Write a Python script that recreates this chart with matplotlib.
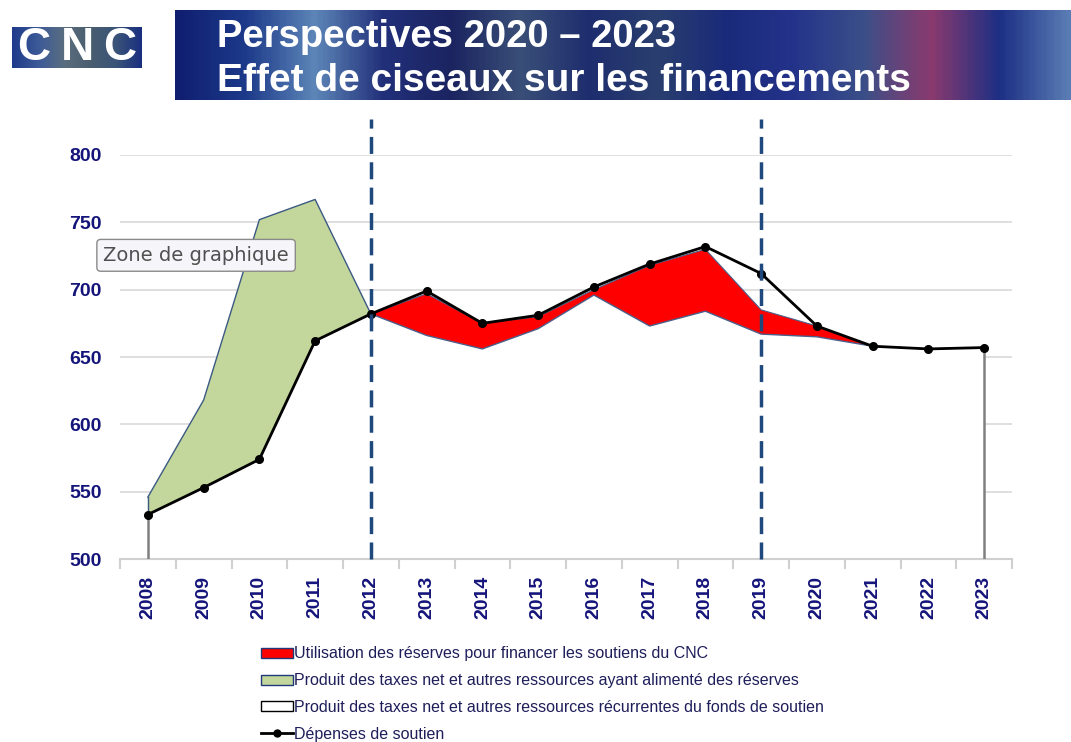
import numpy as np
import matplotlib.pyplot as plt
from matplotlib.colors import LinearSegmentedColormap
from matplotlib.patches import Patch
from matplotlib.lines import Line2D

years = list(range(2008, 2024))
# recurrent revenue (white area, bottom layer)
recurrentes = [533, 553, 574, 662, 682, 666, 656, 671, 696, 673, 684, 667, 665, 658, 656, 657]
# revenue that fed the reserves (green, stacked on top)
alimentation = [13, 65, 178, 105, 0, 0, 0, 0, 0, 0, 0, 0, 0, 0, 0, 0]
# use of reserves (red, stacked on top)
utilisation = [0, 0, 0, 0, 0, 31, 19, 9, 4, 45, 46, 18, 8, 0, 0, 0]
# support spending (black line)
depenses = [533, 553, 574, 662, 682, 699, 675, 681, 702, 719, 732, 712, 673, 658, 656, 657]
y_ticks = [500, 550, 600, 650, 700, 750, 800]
ruptures = [2012, 2019]

navy = "#14147a"
dash_blue = "#1f497d"

plt.rcParams['font.family'] = ['Liberation Sans', 'DejaVu Sans']

fig = plt.figure(figsize=(10.71, 7.42), dpi=100)

# banner
ban = fig.add_axes([175 / 1071, 1 - 100 / 742, 896 / 1071, 90 / 742])
stops = ["#101e70", "#1d3a8a", "#5d86b8", "#22307a", "#1b2460", "#3a4f78",
         "#1e2d6e", "#2a3f6e", "#1a2a7a", "#24338a", "#3a4f88", "#8a3a6e",
         "#1c2f84", "#5a7cb4"]
cmap = LinearSegmentedColormap.from_list("banner", stops)
grad = np.linspace(0, 1, 400)[None, :]
ban.imshow(grad, aspect="auto", cmap=cmap, extent=[0, 1, 0, 1])
ban.set_axis_off()
fig.text(217 / 1071, 1 - 47 / 742, "Perspectives 2020 – 2023", color="white",
         fontsize=27.5, fontweight="bold", va="baseline", ha="left")
fig.text(217 / 1071, 1 - 91 / 742, "Effet de ciseaux sur les financements", color="white",
         fontsize=28, fontweight="bold", va="baseline", ha="left")

# logo
logo = fig.add_axes([12 / 1071, 1 - 68 / 742, 130 / 1071, 41 / 742])
lcmap = LinearSegmentedColormap.from_list("logo", ["#1f3a8a", "#3c5a98", "#5a6e80",
                                                   "#4a5e70", "#3a5478", "#1a2f80"])
logo.imshow(np.linspace(0, 1, 200)[None, :], aspect="auto", cmap=lcmap, extent=[0, 1, 0, 1])
logo.set_axis_off()
for xc, ch in zip([0.17, 0.5, 0.83], "CNC"):
    logo.text(xc, 0.5, ch, color="white", fontsize=33, fontweight="bold",
              ha="center", va="center", transform=logo.transAxes)

ax = fig.add_axes([120 / 1071, 183 / 742, 892 / 1071, 404 / 742])

rec = np.array(recurrentes)
top_green = rec + np.array(alimentation)
top_red = top_green + np.array(utilisation)

ax.fill_between(years, 500, rec, facecolor="white", edgecolor="none", zorder=2)
ax.plot([years[0], years[0]], [500, rec[0]], color="#808080", lw=1.8, zorder=3)
ax.plot([years[-1], years[-1]], [500, rec[-1]], color="#808080", lw=1.8, zorder=3)
ax.fill_between(years, rec, top_green, facecolor="#c3d69b", edgecolor="none", zorder=2)
ax.plot(years[:5], top_green[:5], color="#3b5a82", lw=1, zorder=3)
ax.plot([years[0], years[0]], [rec[0], top_green[0]], color="#3b5a82", lw=1, zorder=3)
ax.fill_between(years, top_green, top_red, facecolor="#ff0000", edgecolor="none", zorder=2)
ax.plot(years[4:], rec[4:], color="#4a5f8a", lw=1, zorder=3)
ax.plot(years[4:], top_red[4:], color="#4a5f8a", lw=0.8, zorder=3)
ax.plot(years, depenses, color="black", lw=2, marker="o", ms=5.5, zorder=4)

for r in ruptures:
    ax.plot([r, r], [500, 827], color=dash_blue, lw=2.5, ls=(0, (4.9, 2.4)),
            clip_on=False, zorder=5)

ax.set_xlim(2007.5, 2023.5)
ax.set_ylim(500, 800)
ax.set_yticks(y_ticks)
ax.set_yticklabels([str(v) for v in y_ticks], color=navy, fontsize=14, fontweight="bold")
ax.set_xticks(years)
ax.set_xticklabels([str(y) for y in years], rotation=90, color=navy,
                   fontsize=14, fontweight="bold")
ax.set_xticks(np.arange(2007.5, 2024, 1), minor=True)
ax.tick_params(axis="x", which="major", length=0, pad=12)
ax.tick_params(axis="x", which="minor", length=7, color="#d0d0d0", width=1.5)
ax.tick_params(axis="y", length=0, pad=13)
ax.grid(axis="y", color="#d9d9d9", lw=1.2, zorder=0)
for s in ["top", "right", "left"]:
    ax.spines[s].set_visible(False)
ax.spines["bottom"].set_color("#d0d0d0")
ax.spines["bottom"].set_linewidth(1.5)
ax.set_axisbelow(True)

ax.text(2007.2, 725.5, "Zone de graphique", color="#505050", fontsize=14,
        family=["DejaVu Sans"], va="center", ha="left", zorder=10,
        bbox=dict(boxstyle="round,pad=0.33,rounding_size=0.2", facecolor="#f6f6fa",
                  edgecolor="#8a8a8a", lw=1))

handles = [
    Patch(facecolor="#ff0000", edgecolor="#1f3a7a", lw=1,
          label="Utilisation des réserves pour financer les soutiens du CNC"),
    Patch(facecolor="#c3d69b", edgecolor="#1f3a7a", lw=1,
          label="Produit des taxes net et autres ressources ayant alimenté des réserves"),
    Patch(facecolor="white", edgecolor="black", lw=1,
          label="Produit des taxes net et autres ressources récurrentes du fonds de soutien"),
    Line2D([], [], color="black", lw=2, marker="o", ms=5, label="Dépenses de soutien"),
]
leg = fig.legend(handles=handles, loc="upper left", bbox_to_anchor=(255 / 1071, 1 - 640 / 742),
                 frameon=False, fontsize=11.5, labelcolor="#1e1e5a", handlelength=1.95,
                 handleheight=0.6, handletextpad=0.1, labelspacing=0.74, borderaxespad=0)

fig.savefig("out.png", dpi=100)
